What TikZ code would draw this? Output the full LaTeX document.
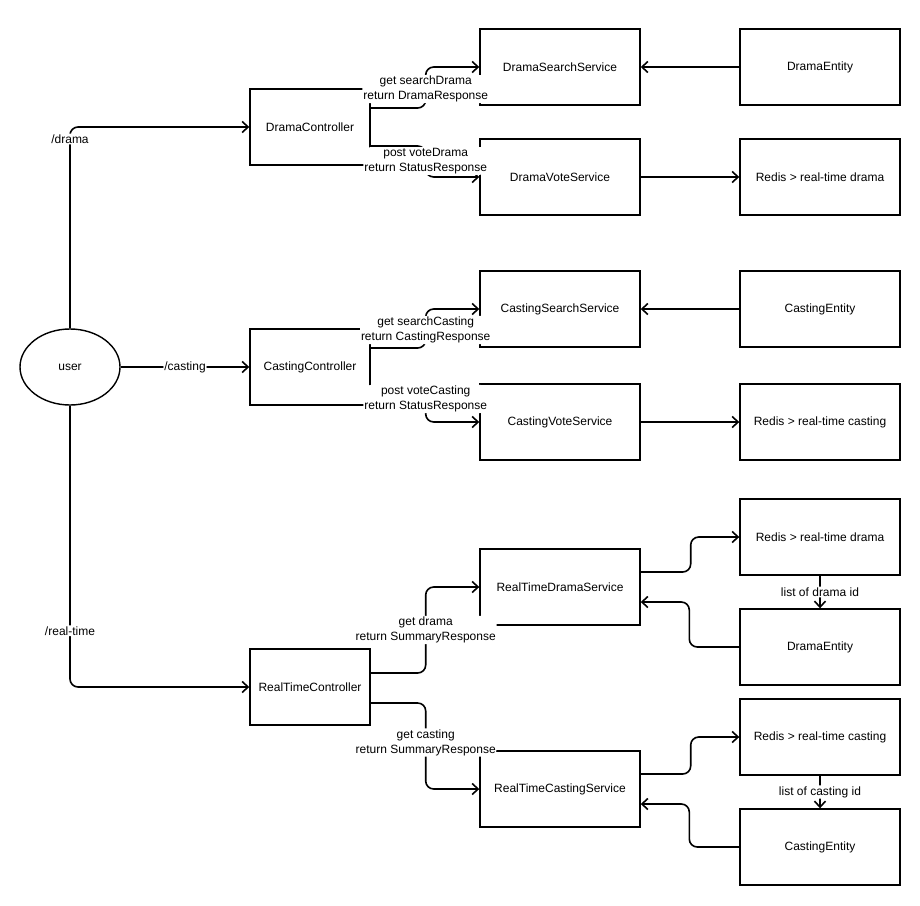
\documentclass[tikz,border=0pt]{standalone}
\usepackage{fontspec}
\setmainfont{Liberation Sans}
\usetikzlibrary{arrows.meta,shapes.geometric,calc}
\begin{document}
\begin{tikzpicture}[x=1pt,y=-1pt,
 font=\fontsize{12}{15}\selectfont,
 box/.style={draw, line width=1.4pt, minimum width=160pt, minimum height=76pt, inner sep=0pt},
 ctrl/.style={box, minimum width=120pt},
 conn/.style={line width=1.6pt, rounded corners=8pt, -{Straight Barb[length=6pt,width=11pt]}},
 lbl/.style={fill=white, inner sep=1pt, align=center}
]
\useasboundingbox (0,0) rectangle (920,905);
\node[draw, ellipse, line width=1.4pt, minimum width=100pt, minimum height=76pt, inner sep=0pt] (u) at (70,367) {user};
\node[ctrl] (dc) at (310,127) {DramaController};
\node[box] (dss) at (560,67) {DramaSearchService};
\node[box] (de) at (820,67) {DramaEntity};
\node[box] (dvs) at (560,177) {DramaVoteService};
\node[box] (dr) at (820,177) {Redis > real-time drama};
\node[box] (css) at (560,309) {CastingSearchService};
\node[box] (ce) at (820,309) {CastingEntity};
\node[ctrl] (cc) at (310,367) {CastingController};
\node[box] (cvs) at (560,422) {CastingVoteService};
\node[box] (cr) at (820,422) {Redis > real-time casting};
\node[box] (rds) at (560,587) {RealTimeDramaService};
\node[box] (rdr) at (820,537) {Redis > real-time drama};
\node[box] (rde) at (820,647) {DramaEntity};
\node[ctrl] (rc) at (310,687) {RealTimeController};
\node[box] (rcs) at (560,789) {RealTimeCastingService};
\node[box] (rcr) at (820,737) {Redis > real-time casting};
\node[box] (rce) at (820,847) {CastingEntity};

\draw[conn] (u.north) |- node[lbl,pos=0.47]{/drama} (dc.west);
\draw[conn] (u.east) -- node[lbl]{/casting} (cc.west);
\draw[conn] (u.south) |- node[lbl,pos=0.40]{/real-time} (rc.west);

\draw[conn] ([yshift=19pt]dc.east) -- ++(55,0) |- node[lbl,pos=0.23]{get searchDrama\\return DramaResponse} (dss.west);
\draw[conn] ([yshift=-19pt]dc.east) -- ++(55,0) |- node[lbl,pos=0.24]{post voteDrama\\return StatusResponse} (dvs.west);
\draw[conn] ([yshift=19pt]cc.east) -- ++(55,0) |- node[lbl,pos=0.23]{get searchCasting\\return CastingResponse} (css.west);
\draw[conn] ([yshift=-19pt]cc.east) -- ++(55,0) |- node[lbl,pos=0.18]{post voteCasting\\return StatusResponse} (cvs.west);
\draw[conn] ([yshift=14pt]rc.east) -- ++(55,0) |- node[lbl,pos=0.25]{get drama\\return SummaryResponse} (rds.west);
\draw[conn] ([yshift=-16pt]rc.east) -- ++(55,0) |- node[lbl,pos=0.23]{get casting\\return SummaryResponse} (rcs.west);

\draw[conn] (de.west) -- (dss.east);
\draw[conn] (dvs.east) -- (dr.west);
\draw[conn] (ce.west) -- (css.east);
\draw[conn] (cvs.east) -- (cr.west);

\draw[conn] ([yshift=15pt]rds.east) -- ++(50,0) |- (rdr.west);
\draw[conn] (rde.west) -- ++(-50,0) |- ([yshift=-15pt]rds.east);
\draw[conn] (rdr.south) -- node[lbl]{list of drama id} (rde.north);
\draw[conn] ([yshift=15pt]rcs.east) -- ++(50,0) |- (rcr.west);
\draw[conn] (rce.west) -- ++(-50,0) |- ([yshift=-15pt]rcs.east);
\draw[conn] (rcr.south) -- node[lbl]{list of casting id} (rce.north);
\end{tikzpicture}
\end{document}
